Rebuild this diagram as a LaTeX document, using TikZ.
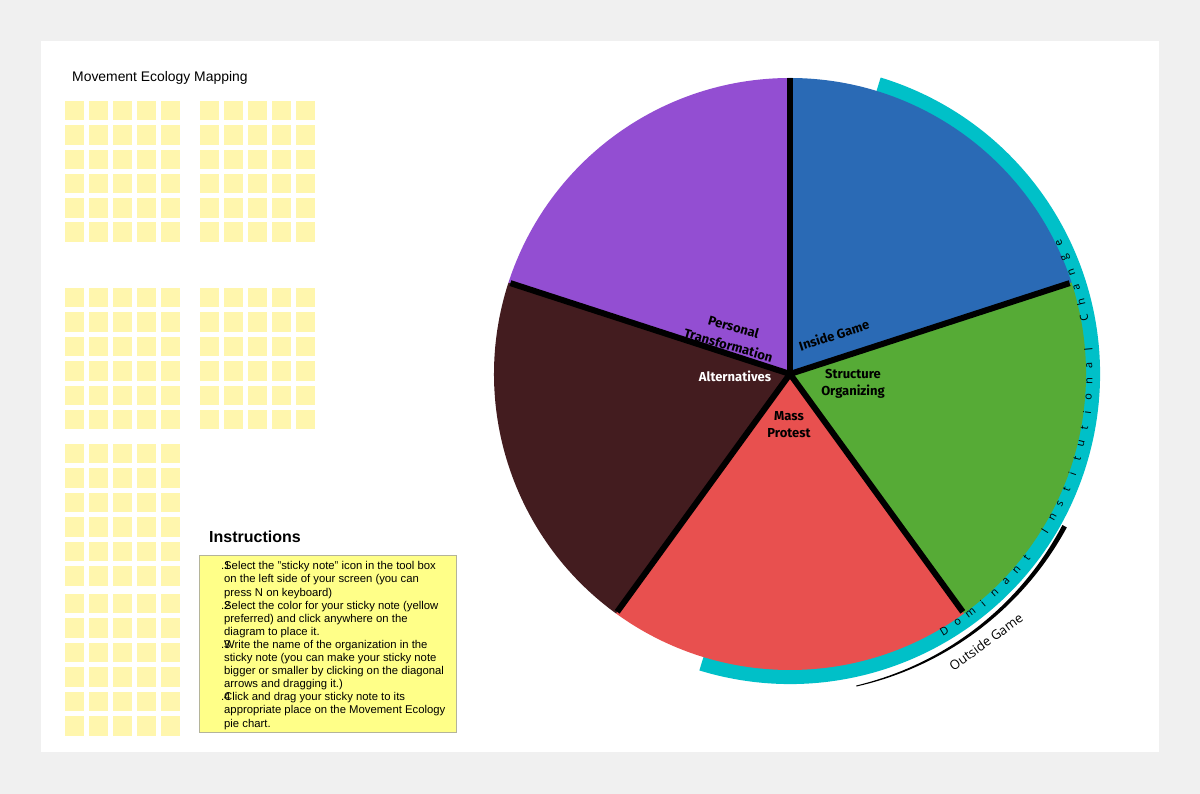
\documentclass[tikz,border=0pt]{standalone}
\usepackage{fontspec}
\setmainfont{Liberation Sans}
\newfontfamily\labelfont{Fira Sans}
\newfontfamily\opensans{Open Sans}
\definecolor{bgout}{HTML}{F0F0F0}
\definecolor{sticky}{HTML}{FFF6AD}
\definecolor{instr}{HTML}{FFFF88}
\definecolor{instrborder}{HTML}{B4B49A}
\definecolor{cBlue}{HTML}{2A6AB5}
\definecolor{cGreen}{HTML}{56AB36}
\definecolor{cRed}{HTML}{E8504F}
\definecolor{cBrown}{HTML}{431C1F}
\definecolor{cPurple}{HTML}{934ED2}
\definecolor{cTeal}{HTML}{00C0C8}
\tikzset{
  stickynote/.style={fill=sticky},
  sep/.style={line width=6pt, line cap=butt, black},
  slicelabel/.style={font=\labelfont\bfseries\fontsize{13}{17}\selectfont, align=center, inner sep=0pt},
}
\begin{document}
\begin{tikzpicture}[x=1pt,y=1pt]
\useasboundingbox (0,0) rectangle (1200,794);
\fill[bgout] (0,0) rectangle (1200,794);
\fill[white] (41,42) rectangle (1159,753);

% title
\node[anchor=west, font=\fontsize{13.9}{16}\selectfont, inner sep=0pt] (title) at (72,716.5) {Movement Ecology Mapping};

% sticky notes
\foreach \gx in {65,200}{
  \foreach \i in {0,...,4}{
    \foreach \j in {0,...,5}{
      \fill[stickynote] ({\gx+24*\i}, {794-101-24.3*\j}) rectangle ++(18.5,-19.5);
      \fill[stickynote] ({\gx+24*\i}, {794-288-24.4*\j}) rectangle ++(18.5,-19.5);
    }
  }
}
\foreach \i in {0,...,4}{
  \foreach \j in {0,...,5}{
    \fill[stickynote] ({65+24*\i}, {794-444-24.5*\j}) rectangle ++(18.5,-19.5);
    \fill[stickynote] ({65+24*\i}, {794-594-24.5*\j}) rectangle ++(18.5,-19.5);
  }
}

% instructions
\node[anchor=west, font=\bfseries\fontsize{16}{19}\selectfont, inner sep=0pt] (instrtitle) at (209,257) {Instructions};
\node[draw=instrborder, fill=instr, line width=0.8pt, minimum width=257pt, minimum height=177pt, anchor=north west, inner sep=0pt] (instrbox) at (199,239) {};
\node[anchor=north west, align=left, inner sep=0pt, font=\fontsize{11.3}{13.1}\selectfont] (instrtext) at (224,232.5) {%
\llap{.}\rlap{1}Select the "sticky note" icon in the tool box\\
on the left side of your screen (you can\\
press N on keyboard)\\
\llap{.}\rlap{2}Select the color for your sticky note (yellow\\
preferred) and click anywhere on the\\
diagram to place it.\\
\llap{.}\rlap{3}Write the name of the organization in the\\
sticky note (you can make your sticky note\\
bigger or smaller by clicking on the diagonal\\
arrows and dragging it.)\\
\llap{.}\rlap{4}Click and drag your sticky note to its\\
appropriate place on the Movement Ecology\\
pie chart.};

% pie
\coordinate (O) at (790,420);
\begin{scope}[shift={(790,420)}]
  % teal band
  \fill[cTeal] (73:310) arc[start angle=73, end angle=-107, radius=310] -- (-107:294) arc[start angle=-107, end angle=73, radius=294] -- cycle;
  % slices
  \fill[cBlue] (0,0) -- (90:296) arc[start angle=90, end angle=18, radius=296] -- cycle;
  \fill[cGreen] (0,0) -- (18:296) arc[start angle=18, end angle=-54, radius=296] -- cycle;
  \fill[cRed] (0,0) -- (-54:296) arc[start angle=-54, end angle=-126, radius=296] -- cycle;
  \fill[cBrown] (0,0) -- (-126:296) arc[start angle=-126, end angle=-198, radius=296] -- cycle;
  \fill[cPurple] (0,0) -- (162:296) arc[start angle=162, end angle=90, radius=296] -- cycle;
  \coordinate (r1) at (90:296);
  \coordinate (r2) at (18:294);
  \coordinate (r3) at (-54:294);
  \coordinate (r4) at (-126:294);
  \coordinate (r5) at (162:294);
  % outside game arc
  \fill[black] plot[domain=-29:-78, samples=40] ({(314+5*(-29-\x)/49 + (5-4*(-29-\x)/49)/2)*cos(\x)}, {(314+5*(-29-\x)/49 + (5-4*(-29-\x)/49)/2)*sin(\x)})
     -- plot[domain=-78:-29, samples=40] ({(314+5*(-29-\x)/49 - (5-4*(-29-\x)/49)/2)*cos(\x)}, {(314+5*(-29-\x)/49 - (5-4*(-29-\x)/49)/2)*sin(\x)}) -- cycle;
  % arc text
  \foreach \ch [count=\i] in {D,o,m,i,n,a,n,t,{},I,n,s,t,i,t,u,t,i,o,n,a,l,{},C,h,a,n,g,e}{
    \pgfmathsetmacro{\ang}{-59+(\i-1)*85/28}
    \node[font=\opensans\fontsize{11}{13}\selectfont, rotate=\ang+90, inner sep=0pt] (ch\i) at (\ang:299.5) {\ch};
  }
\end{scope}
\draw[sep] (O) -- (r1);
\draw[sep] (O) -- (r2);
\draw[sep] (O) -- (r3);
\draw[sep] (O) -- (r4);
\draw[sep] (O) -- (r5);
\fill[black] (O) circle (3.5pt);

% labels
\node[slicelabel, rotate=18] (inside) at (834,459) {Inside Game};
\node[slicelabel, rotate=-16, font=\labelfont\bfseries\fontsize{13}{19}\selectfont] (personal) at (731,458) {Personal\\Transformation};
\node[slicelabel, text=white] (alt) at (735,418) {Alternatives};
\node[slicelabel] (struct) at (853,410) {Structure\\Organizing};
\node[slicelabel] (mass) at (789,369) {Mass\\Protest};
\node[font=\opensans\fontsize{13}{15}\selectfont, rotate=36, inner sep=0pt] (outside) at (986,152) {Outside Game};
\end{tikzpicture}
\end{document}
